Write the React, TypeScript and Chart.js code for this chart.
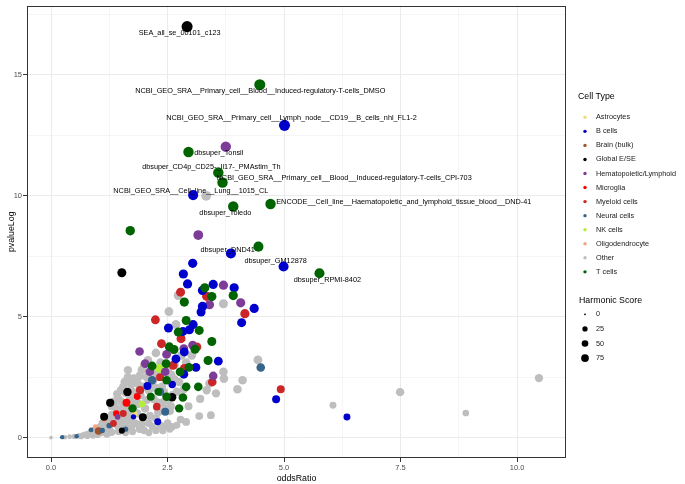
import React, { useEffect, useRef } from "react";
import { Chart, registerables } from "chart.js";
Chart.register(...registerables);

// [oddsRatio, pvalueLog, harmonicScore]
const tCells: number[][] = [
  [4.48, 14.58, 150], [2.95, 11.8, 130], [3.59, 10.95, 130], [3.68, 10.54, 130], [3.91, 9.55, 130],
  [4.71, 9.65, 130], [4.45, 7.89, 120], [5.76, 6.79, 120], [1.7, 8.55, 100],
  [3.3, 6.19, 95], [3.45, 5.83, 95], [3.91, 5.87, 95], [2.86, 5.6, 95], [2.9, 4.84, 90], [3.18, 4.43, 90],
  [2.73, 4.36, 90], [3.45, 3.97, 90], [2.54, 3.75, 90], [2.64, 3.64, 90], [3.09, 3.65, 90], [3.37, 3.19, 90],
  [2.17, 2.96, 85], [2.47, 3.06, 85], [2.77, 2.72, 85], [2.96, 2.9, 85], [3.16, 2.1, 80], [2.9, 2.1, 80],
  [2.48, 2.37, 80], [2.48, 1.69, 80], [2.83, 1.66, 80], [2.75, 1.21, 75], [1.75, 1.21, 75], [2.14, 1.69, 65],
  [2.3, 1.9, 55],
];
const bCells: number[][] = [
  [5.01, 12.9, 150], [3.05, 10.02, 120], [3.86, 7.61, 120], [4.99, 7.07, 120],
  [3.04, 7.2, 95], [2.84, 6.76, 95], [2.93, 6.35, 95], [3.48, 6.33, 95], [3.93, 6.19, 95], [3.25, 6.08, 95],
  [3.25, 5.42, 95], [4.36, 5.34, 95], [4.09, 4.75, 90], [3.22, 5.19, 90], [2.52, 4.53, 90], [3.05, 4.67, 90],
  [2.97, 4.46, 90], [2.83, 4.39, 90], [2.86, 3.54, 85], [2.68, 3.25, 85], [3.59, 3.16, 85], [2.85, 2.62, 85],
  [3.11, 2.9, 85], [4.83, 1.59, 65], [6.35, 0.85, 45], [2.07, 2.13, 65], [2.29, 0.66, 45], [1.77, 0.86, 20],
  [2.6, 2.2, 55],
];
const hemato: number[][] = [
  [3.75, 12.02, 130], [3.16, 8.37, 110], [3.7, 6.3, 95], [3.4, 5.49, 95], [4.07, 5.57, 95], [1.9, 3.56, 80],
  [2.48, 3.44, 85], [2.85, 3.68, 85], [3.04, 3.82, 85], [2.02, 3.06, 80], [2.12, 2.72, 80], [2.45, 2.72, 80],
  [3.48, 2.55, 80], [1.43, 0.86, 25],
];
const myeloid: number[][] = [
  [2.78, 6.01, 90], [3.34, 5.84, 95], [4.16, 5.12, 95], [2.24, 4.87, 85], [2.79, 4.09, 90], [2.37, 3.88, 85],
  [3.13, 3.75, 85], [2.62, 2.99, 85], [2.86, 2.86, 85], [3.46, 2.3, 80], [1.91, 1.96, 70], [4.93, 2.0, 65],
  [2.27, 1.28, 60], [1.34, 0.59, 40], [2.34, 2.5, 65], [1.55, 1.0, 45],
];
const microglia: number[][] = [[1.62, 1.44, 65], [1.85, 1.7, 45], [1.4, 1.0, 35]];
const globalESE: number[][] = [
  [2.92, 16.98, 150], [1.52, 6.81, 90], [1.64, 1.89, 75], [1.27, 1.44, 70], [1.14, 0.86, 65], [1.97, 0.84, 65],
  [2.6, 1.67, 75], [1.52, 0.29, 30],
];
const brainBulk: number[][] = [[1.02, 0.28, 55]];
const neural: number[][] = [
  [4.5, 2.9, 80], [2.17, 2.37, 75], [2.34, 1.89, 70], [2.45, 1.07, 65], [0.24, 0.02, 10], [0.55, 0.06, 12],
  [0.86, 0.32, 15], [1.1, 0.3, 20], [1.25, 0.5, 25], [1.6, 0.35, 20],
];
const nkCells: number[][] = [[2.32, 2.86, 80], [1.95, 1.39, 40]];
const oligo: number[][] = [[1.14, 0.76, 25], [0.95, 0.45, 15]];
const astro: number[][] = [[1.8, 1.0, 20]];
const other: number[][] = [
  [3.33, 9.99, 110], [10.47, 2.46, 75], [8.9, 1.02, 40], [7.49, 1.88, 75], [6.05, 1.34, 45], [4.44, 3.21, 85],
  [4.11, 2.37, 80], [4.0, 2.0, 80], [3.7, 2.72, 80], [3.71, 2.44, 80], [3.54, 1.83, 75], [3.4, 2.24, 80],
  [3.34, 1.96, 75], [3.18, 0.89, 60], [3.43, 0.93, 60], [2.7, 0.51, 45], [2.73, 5.87, 90], [2.53, 5.21, 85],
  [2.68, 4.67, 90], [3.7, 5.53, 90], [3.02, 3.4, 85], [2.25, 3.5, 80], [1.65, 2.79, 75], [2.27, 2.65, 80],
  [2.65, 2.4, 80], [2.57, 1.3, 70], [1.86, 2.24, 75], [2.17, 2.25, 75],
  [0, 0, 5], [0.3, 0.02, 12], [0.4, 0.04, 15], [0.5, 0.05, 20], [0.6, 0.08, 25], [0.68, 0.1, 30], [0.75, 0.13, 35],
  [0.82, 0.16, 40], [0.9, 0.2, 45], [0.97, 0.23, 50], [0.65, 0.04, 20], [0.78, 0.06, 25], [0.9, 0.09, 35],
  [1.0, 0.12, 40], [1.08, 0.2, 45], [1.15, 0.28, 50], [1.05, 0.45, 50], [1.2, 0.15, 50], [1.3, 0.22, 55],
  [1.25, 0.4, 55], [1.35, 0.6, 60], [1.4, 0.85, 65], [1.45, 0.45, 60], [1.5, 0.7, 65], [1.48, 1.1, 70],
  [1.38, 1.25, 65], [1.55, 1.3, 70], [1.58, 0.55, 65], [1.62, 0.9, 70], [1.68, 1.15, 70], [1.7, 1.6, 75],
  [1.75, 1.9, 75], [1.8, 0.6, 65], [1.85, 1.0, 70], [1.88, 1.4, 75], [1.92, 1.75, 75], [1.98, 2.1, 75],
  [1.6, 1.85, 75], [1.72, 0.4, 60], [1.95, 0.55, 65], [2.02, 1.2, 70], [2.05, 1.55, 75], [2.1, 1.95, 75],
  [2.12, 0.9, 70], [2.18, 0.45, 60], [2.2, 1.6, 75], [2.25, 2.05, 75], [2.3, 1.05, 70], [2.35, 0.5, 60],
  [2.4, 1.45, 75], [2.42, 1.9, 75], [2.5, 0.6, 60], [2.55, 1.1, 70], [2.6, 1.75, 75], [2.05, 2.5, 75],
  [2.15, 2.75, 75], [2.35, 3.1, 80], [2.5, 2.8, 80], [1.45, 1.6, 65], [1.3, 0.95, 60], [1.55, 2.1, 70],
  [2.0, 0.3, 55], [2.4, 0.3, 55], [2.6, 0.45, 55], [2.85, 2.0, 70], [2.95, 1.3, 65], [2.55, 3.6, 80],
  [2.9, 3.1, 80], [3.2, 1.6, 70],
  [1.1, 0.6, 55], [1.2, 0.8, 60], [1.3, 1.3, 65], [1.35, 1.5, 65], [1.42, 1.8, 70], [1.5, 1.95, 70],
  [1.58, 2.3, 75], [1.65, 2.5, 75], [1.72, 2.2, 75], [1.78, 2.45, 75], [1.8, 1.4, 75], [1.9, 2.55, 80],
  [1.95, 2.8, 80], [2.0, 3.0, 80], [2.08, 3.2, 80], [2.1, 2.25, 80], [1.68, 0.7, 65], [1.75, 0.95, 70],
  [1.9, 0.35, 55], [2.1, 0.6, 60], [2.25, 0.8, 65], [2.3, 1.45, 70], [2.45, 1.2, 70], [2.5, 1.55, 70],
  [2.38, 2.1, 75], [2.58, 2.6, 80], [2.65, 3.0, 80], [2.8, 3.4, 80], [2.7, 1.9, 75], [2.75, 2.3, 75],
  [2.78, 0.75, 60], [2.9, 0.65, 60], [1.2, 0.55, 50], [1.12, 0.38, 45], [1.0, 0.3, 40], [0.92, 0.32, 35],
  [0.85, 0.25, 30], [1.45, 0.25, 50], [1.6, 0.2, 45], [1.75, 0.25, 50], [2.25, 0.3, 50], [2.45, 0.45, 50],
  [2.55, 0.35, 45], [2.1, 0.2, 45], [1.85, 0.55, 55], [1.55, 0.85, 60], [1.4, 0.55, 55], [1.28, 0.75, 55],
  [1.5, 1.5, 65], [1.62, 1.3, 65], [2.2, 2.4, 80], [2.3, 2.7, 80],
];

const cellTypes = [
  "Astrocytes", "B cells", "Brain (bulk)", "Global E/SE", "Hematopoietic/Lymphoid", "Microglia",
  "Myeloid cells", "Neural cells", "NK cells", "Oligodendrocyte", "Other", "T cells",
];
const cellColors = [
  "#EEDC82", "#0000CD", "#A0522D", "#000000", "#7D3C98", "#FF0000",
  "#CD2626", "#36648B", "#B3EE3A", "#F4A582", "#BEBEBE", "#006400",
];
const cellData = [astro, bCells, brainBulk, globalESE, hemato, microglia, myeloid, neural, nkCells, oligo, other, tCells];
const drawOrder = [5, 2, 6, 4, 3, 6, 4, 5, 6, 6, 20, 1];

const sizeBreaks = [0, 25, 50, 75];

const labelTexts = [
  "SEA_all_se_00101_c123",
  "NCBI_GEO_SRA__Primary_cell__Blood__Induced-regulatory-T-cells_DMSO",
  "NCBI_GEO_SRA__Primary_cell__Lymph_node__CD19__B_cells_nhl_FL1-2",
  "dbsuper_Tonsil",
  "dbsuper_CD4p_CD25-_Il17-_PMAstim_Th",
  "NCBI_GEO_SRA__Primary_cell__Blood__Induced-regulatory-T-cells_CPI-703",
  "NCBI_GEO_SRA__Cell_line__Lung__1015_CL",
  "dbsuper_Toledo",
  "ENCODE__Cell_line__Haematopoietic_and_lymphoid_tissue_blood__DND-41",
  "dbsuper_DND41",
  "dbsuper_GM12878",
  "dbsuper_RPMI-8402",
];
const labelX = [2.76, 4.49, 5.16, 3.6, 3.44, 6.29, 3.0, 3.74, 7.57, 3.79, 4.82, 5.93];
const labelY = [16.71, 14.3, 13.19, 11.74, 11.19, 10.72, 10.19, 9.29, 9.74, 7.77, 7.28, 6.52];

const xTicks = [0, 1.25, 2.5, 3.75, 5, 6.25, 7.5, 8.75, 10];
const yTicks = [0, 2.5, 5, 7.5, 10, 12.5, 15, 17.5];

const FONT = "'Liberation Sans', Arial, Helvetica, sans-serif";
const radiusOf = (s: number) => 1 + 0.37 * Math.sqrt(s);

export default function App() {
  const ref = useRef<HTMLCanvasElement | null>(null);
  useEffect(() => {
    if (!ref.current) return;
    Chart.defaults.font.family = FONT;

    const datasets = cellTypes.map((name, i) => ({
      label: name,
      data: cellData[i].map((p) => ({ x: p[0], y: p[1], s: p[2] })),
      backgroundColor: cellColors[i],
      borderWidth: 0,
      pointRadius: (ctx: any) => radiusOf(ctx.raw ? ctx.raw.s : 0),
      order: drawOrder[i],
    }));

    const decor = {
      id: "decor",
      afterDatasetsDraw(chart: any) {
        const c = chart.ctx;
        const xs = chart.scales.x;
        const ys = chart.scales.y;
        c.save();
        c.fillStyle = "#000000";
        c.font = `7.3px ${FONT}`;
        c.textAlign = "center";
        c.textBaseline = "middle";
        labelTexts.forEach((t, i) => {
          c.fillText(t, xs.getPixelForValue(labelX[i]), ys.getPixelForValue(labelY[i]));
        });
        c.restore();
      },
      afterDraw(chart: any) {
        const c = chart.ctx;
        const a = chart.chartArea;
        c.save();
        c.strokeStyle = "#333333";
        c.lineWidth = 1;
        c.strokeRect(Math.round(a.left) + 0.5, Math.round(a.top) + 0.5, Math.round(a.right - a.left) - 1, Math.round(a.bottom - a.top) - 1);

        // legend: cell type
        c.textBaseline = "middle";
        c.textAlign = "left";
        c.fillStyle = "#000000";
        c.font = `8.8px ${FONT}`;
        c.fillText("Cell Type", 578, 97);
        c.font = `7.3px ${FONT}`;
        cellTypes.forEach((name, i) => {
          const y = 117.3 + i * 14.05;
          c.fillStyle = cellColors[i];
          c.beginPath();
          c.arc(585, y, 1.7, 0, Math.PI * 2);
          c.fill();
          c.fillStyle = "#1A1A1A";
          c.fillText(name, 596, y);
        });
        // legend: harmonic score
        c.fillStyle = "#000000";
        c.font = `8.8px ${FONT}`;
        c.fillText("Harmonic Score", 579, 301);
        c.font = `7.3px ${FONT}`;
        sizeBreaks.forEach((v, i) => {
          const y = 314.3 + i * 14.6;
          c.fillStyle = "#000000";
          c.beginPath();
          c.arc(585, y, radiusOf(v) * 0.92, 0, Math.PI * 2);
          c.fill();
          c.fillStyle = "#1A1A1A";
          c.fillText(String(v), 596, y);
        });
        c.restore();
      },
    };

    const isMajor = (v: number, step: number) => Math.abs(v / step - Math.round(v / step)) < 1e-6;

    const chart = new Chart(ref.current, {
      type: "scatter",
      data: { datasets: datasets as any },
      options: {
        responsive: false,
        animation: false,
        layout: { padding: { left: 0, top: 4, right: 119, bottom: 0 } },
        plugins: { legend: { display: false }, tooltip: { enabled: false } },
        scales: {
          x: {
            type: "linear",
            min: -0.515,
            max: 11.05,
            afterBuildTicks: (s: any) => {
              s.ticks = xTicks.map((v) => ({ value: v }));
            },
            afterFit: (s: any) => {
              s.height = 26;
            },
            ticks: {
              autoSkip: false,
              maxRotation: 0,
              padding: 1,
              color: "#4D4D4D",
              font: { size: 7.5 },
              callback: (v: any) => (isMajor(Number(v), 2.5) ? Number(v).toFixed(1) : ""),
            },
            grid: {
              color: "#EBEBEB",
              lineWidth: (ctx: any) => (ctx.tick && isMajor(ctx.tick.value, 2.5) ? 1 : 0.5),
              tickColor: (ctx: any) => (ctx.tick && isMajor(ctx.tick.value, 2.5) ? "#333333" : "rgba(0,0,0,0)"),
              tickLength: 4,
            },
            border: { display: false },
            title: { display: true, text: "oddsRatio", color: "#000000", font: { size: 8.8 }, padding: { top: 1.5, bottom: 0 } },
          },
          y: {
            type: "linear",
            min: -0.84,
            max: 17.85,
            afterBuildTicks: (s: any) => {
              s.ticks = yTicks.map((v) => ({ value: v }));
            },
            afterFit: (s: any) => {
              s.width = 27;
            },
            ticks: {
              autoSkip: false,
              padding: 1,
              color: "#4D4D4D",
              font: { size: 7.5 },
              callback: (v: any) => (isMajor(Number(v), 5) ? String(Number(v)) : ""),
            },
            grid: {
              color: "#EBEBEB",
              lineWidth: (ctx: any) => (ctx.tick && isMajor(ctx.tick.value, 5) ? 1 : 0.5),
              tickColor: (ctx: any) => (ctx.tick && isMajor(ctx.tick.value, 5) ? "#333333" : "rgba(0,0,0,0)"),
              tickLength: 4,
            },
            border: { display: false },
            title: { display: true, text: "pvalueLog", color: "#000000", font: { size: 8.8 }, padding: { top: 6.5, bottom: 0 } },
          },
        },
      },
      plugins: [decor],
    });
    return () => chart.destroy();
  }, []);

  return (
    <div style={{ position: "fixed", left: 0, top: 0, width: 685, height: 484, background: "#ffffff" }}>
      <canvas ref={ref} width={685} height={484} style={{ width: 685, height: 484, display: "block" }} />
    </div>
  );
}
